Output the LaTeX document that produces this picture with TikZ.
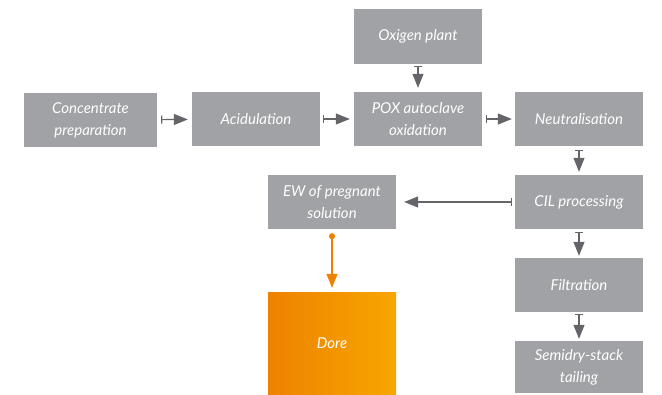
\documentclass[tikz,border=0pt]{standalone}
\usepackage{fontspec}
\setmainfont{Lato}
\usetikzlibrary{arrows.meta}
\definecolor{boxgray}{HTML}{A0A2A5}
\definecolor{arrgray}{HTML}{646569}
\definecolor{orgA}{HTML}{EE8200}
\definecolor{orgB}{HTML}{F7A600}
\begin{document}
\begin{tikzpicture}[x=1pt,y=-1pt,
  proc/.style={fill=boxgray,draw=none,minimum width=128pt,minimum height=54pt,
    text=white,font=\fontsize{15}{22}\selectfont\itshape,align=center,inner sep=2pt},
  flow/.style={draw=arrgray,line width=1.1pt,
    arrows={Bar[width=8pt,line width=1.1pt]-Triangle[length=14pt,width=11pt]}},
  oflow/.style={draw=orgA,line width=1.1pt,
    arrows={Circle[length=6pt,width=6pt]-Triangle[length=14pt,width=11pt]}}]
\useasboundingbox (0,0) rectangle (662,394);
\node[proc,minimum width=133pt] (conc) at (90.5,120) {Concentrate\\preparation};
\node[proc] (acid) at (256,119) {Acidulation};
\node[proc] (pox) at (418,119) {POX autoclave\\oxidation};
\node[proc] (neut) at (579,119) {Neutralisation};
\node[proc,minimum height=55pt] (oxy) at (418,36.5) {Oxigen plant};
\node[proc] (cil) at (579,202) {CIL processing};
\node[proc] (ew) at (332,202) {EW of pregnant\\solution};
\node[proc] (filt) at (579,285) {Filtration};
\node[proc,minimum height=52pt] (semi) at (579,367) {Semidry-stack\\tailing};
\node[proc,minimum height=102pt,left color=orgA,right color=orgB] (dore) at (332,343) {Dore};
\draw[flow,shorten <=4pt,shorten >=4pt] (conc) -- (acid);
\draw[flow,shorten <=3pt,shorten >=4pt] (acid) -- (pox);
\draw[flow,shorten <=4pt,shorten >=3pt] (pox) -- (neut);
\draw[flow,shorten <=2pt,shorten >=4pt] (oxy) -- (pox);
\draw[flow,shorten <=4pt,shorten >=3pt] (neut) -- (cil);
\draw[flow,shorten <=3pt,shorten >=8pt] (cil) -- (ew);
\draw[flow,shorten <=3pt,shorten >=2pt] (cil) -- (filt);
\draw[flow,shorten <=2pt,shorten >=2pt] (filt) -- (semi);
\draw[oflow,shorten <=4pt,shorten >=4pt] (ew) -- (dore);
\end{tikzpicture}
\end{document}
